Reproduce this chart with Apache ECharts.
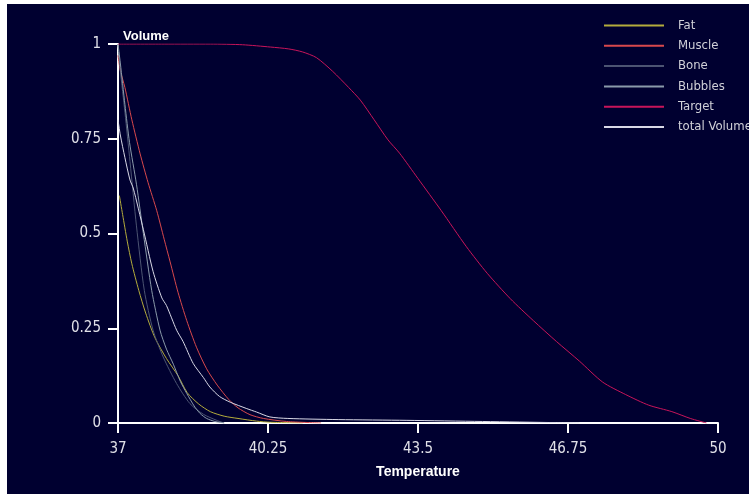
<!DOCTYPE html>
<html>
<head>
<meta charset="utf-8">
<script src="https://cdn.jsdelivr.net/npm/echarts@6/dist/echarts.min.js"></script>
<style>
    html, body { margin: 0; padding: 0; background: #ffffff; }
    #chart { position: absolute; left: 7px; top: 4px; width: 742px; height: 490px; }
</style>
</head>
<body>
<div id="chart"></div>
<script>
// temperature ticks
var xTicks = [37, 40.25, 43.5, 46.75, 50];

// [temperature, volume]
var fatData = [[37.03, 0.60], [37.1, 0.55], [37.2, 0.48], [37.3, 0.42], [37.45, 0.35], [37.6, 0.29], [37.8, 0.225], [38.05, 0.17], [38.3, 0.125], [38.5, 0.08], [38.75, 0.05], [39.0, 0.03], [39.3, 0.018], [39.6, 0.012], [40.0, 0.005], [40.3, 0.002], [41.0, 0]];
var muscleData = [[37, 0.97], [37.05, 0.93], [37.15, 0.885], [37.3, 0.80], [37.48, 0.71], [37.65, 0.635], [37.84, 0.56], [38.0, 0.485], [38.13, 0.425], [38.3, 0.345], [38.49, 0.27], [38.7, 0.2], [38.92, 0.143], [39.15, 0.1], [39.4, 0.062], [39.6, 0.04], [39.86, 0.022], [40.15, 0.012], [40.65, 0.004], [41.4, 0]];
var boneData = [[37, 1.0], [37.05, 0.93], [37.15, 0.82], [37.26, 0.69], [37.4, 0.52], [37.57, 0.35], [37.76, 0.245], [37.98, 0.174], [38.27, 0.104], [38.56, 0.051], [38.85, 0.023], [39.14, 0.007], [39.3, 0]];
var bubblesData = [[37, 1.0], [37.05, 0.95], [37.15, 0.84], [37.25, 0.74], [37.4, 0.63], [37.55, 0.5], [37.73, 0.35], [37.91, 0.245], [38.05, 0.195], [38.2, 0.155], [38.35, 0.11], [38.49, 0.078], [38.65, 0.045], [38.78, 0.025], [38.92, 0.012], [39.1, 0.004], [39.3, 0]];
var targetData = [[37, 1], [38, 1], [39, 1], [39.7, 0.998], [40.3, 0.992], [40.7, 0.987], [41.0, 0.979], [41.3, 0.964], [41.65, 0.928], [42.0, 0.885], [42.25, 0.852], [42.55, 0.80], [42.85, 0.747], [43.1, 0.712], [43.5, 0.645], [44.0, 0.561], [44.55, 0.465], [45.0, 0.395], [45.5, 0.328], [46.0, 0.27], [46.5, 0.215], [47.0, 0.163], [47.5, 0.108], [48.0, 0.075], [48.5, 0.047], [49.0, 0.03], [49.4, 0.012], [49.75, 0]];
var totalData = [[37, 0.80], [37.05, 0.76], [37.15, 0.70], [37.26, 0.641], [37.33, 0.62], [37.55, 0.51], [37.76, 0.4], [37.95, 0.33], [38.05, 0.31], [38.27, 0.245], [38.41, 0.215], [38.63, 0.157], [38.85, 0.12], [38.99, 0.095], [39.2, 0.07], [39.43, 0.055], [39.79, 0.038], [40.0, 0.029], [40.29, 0.016], [40.68, 0.012], [41.77, 0.009], [43.26, 0.007], [44.9, 0.004], [46.5, 0.001], [47, 0]];

var names = ['Fat', 'Muscle', 'Bone', 'Bubbles', 'Target', 'total Volume'];
var colors = ['#b4ac3c', '#d8484c', '#4c5472', '#8a9aaa', '#c8145a', '#d8d8e6'];
var seriesData = [fatData, muscleData, boneData, bubblesData, targetData, totalData];

var myChart = echarts.init(document.getElementById('chart'));

var series = [];
for (var i = 0; i < names.length; i++) {
    series.push({
        name: names[i],
        type: 'line',
        data: seriesData[i],
        smooth: 0.25,
        showSymbol: false,
        lineStyle: { width: 1, color: colors[i] },
        itemStyle: { color: colors[i] }
    });
}

var labelFont = 'Liberation Sans Narrow, DejaVu Sans Condensed, sans-serif';

var option = {
    backgroundColor: '#000030',
    animation: false,
    legend: {
        orient: 'vertical',
        left: 592,
        top: 10,
        itemWidth: 60,
        itemHeight: 2,
        itemGap: 7.3,
        icon: 'rect',
        data: names,
        textStyle: { color: '#d0d0d8', fontSize: 13, fontFamily: labelFont, padding: [0, 0, 0, 9] }
    },
    grid: { left: 111, right: 31, top: 40, bottom: 71 },
    xAxis: {
        type: 'value',
        min: 37,
        max: 50,
        name: 'Temperature',
        nameLocation: 'middle',
        nameGap: 42,
        nameTextStyle: { color: '#ffffff', fontWeight: 'bold', fontSize: 14, fontFamily: 'Liberation Sans, sans-serif' },
        axisLine: { lineStyle: { color: '#ffffff', width: 2 } },
        axisTick: { length: 10, lineStyle: { color: '#ffffff', width: 2 }, customValues: xTicks },
        axisLabel: { color: '#e0e0e8', fontSize: 15, fontFamily: labelFont, margin: 19, customValues: xTicks },
        splitLine: { show: false }
    },
    yAxis: {
        type: 'value',
        min: 0,
        max: 1,
        interval: 0.25,
        name: 'Volume',
        nameLocation: 'end',
        nameGap: 1,
        nameTextStyle: { color: '#ffffff', fontWeight: 'bold', fontSize: 13, fontFamily: 'Liberation Sans, sans-serif', align: 'left', padding: [0, 0, 0, 5] },
        axisLine: { show: true, lineStyle: { color: '#ffffff', width: 2 } },
        axisTick: { show: true, length: 10, lineStyle: { color: '#ffffff', width: 2 } },
        axisLabel: { color: '#e0e0e8', fontSize: 15, fontFamily: labelFont, margin: 17 },
        splitLine: { show: false }
    },
    series: series
};

myChart.setOption(option);
</script>
</body>
</html>
